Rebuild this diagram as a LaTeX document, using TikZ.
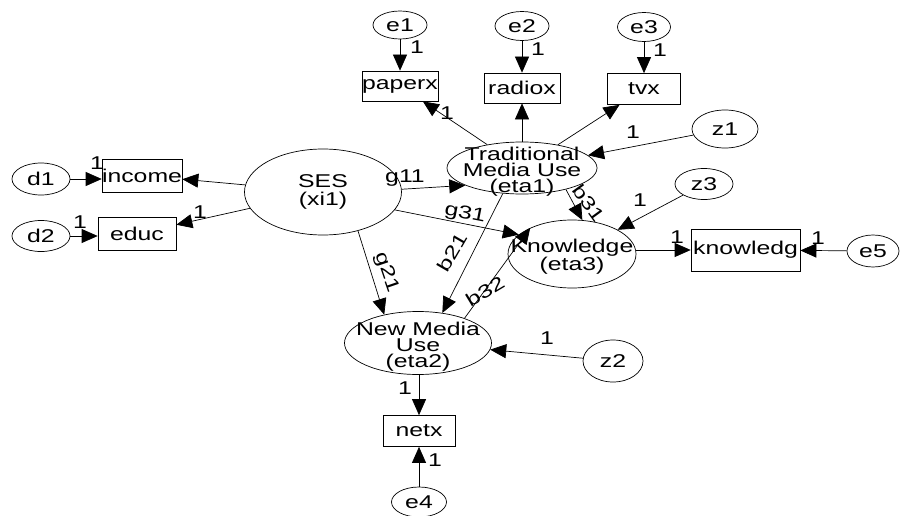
\documentclass[tikz,border=0pt]{standalone}
\usepackage{fontspec}
\setmainfont{Liberation Sans}[FakeStretch=1.34]
\usetikzlibrary{shapes.geometric,arrows.meta}
\begin{document}
\begin{tikzpicture}[x=1pt,y=-1pt,
  font=\fontsize{18.5}{16}\selectfont,
  lat/.style={draw, ellipse, inner sep=0pt, line width=0.7pt, align=center},
  big/.style={inner xsep=-30pt, inner ysep=-12pt},
  obs/.style={draw, rectangle, inner sep=0pt, line width=0.7pt},
  arr/.style={-{Triangle[length=16pt,width=14pt]}, line width=0.7pt},
  lbl/.style={inner sep=0pt}]
\useasboundingbox (0,0) rectangle (901,516);

% latent / error ellipses
\node[lat, minimum width=54pt, minimum height=28pt] (e1) at (400,25) {e1};
\node[lat, minimum width=54pt, minimum height=29pt] (e2) at (522,26) {e2};
\node[lat, minimum width=53pt, minimum height=29pt] (e3) at (644,27) {e3};
\node[lat, minimum width=66pt, minimum height=38pt] (z1) at (725,129) {z1};
\node[lat, minimum width=58pt, minimum height=31pt] (z3) at (704,184) {z3};
\node[lat, minimum width=58pt, minimum height=32pt] (d1) at (41,179) {d1};
\node[lat, minimum width=58pt, minimum height=31pt] (d2) at (41,236) {d2};
\node[lat, minimum width=52pt, minimum height=32pt] (e5) at (873,251) {e5};
\node[lat, minimum width=60pt, minimum height=42pt] (z2) at (613,361) {z2};
\node[lat, minimum width=55pt, minimum height=30pt] (e4) at (419,502) {e4};

\node[lat, big, minimum width=150pt, minimum height=52pt] (eta1) at (522,168) {\rule{0pt}{21pt}Traditional\\Media Use\\(eta1)};
\node[lat, big, minimum width=157pt, minimum height=86pt, font=\fontsize{18.5}{18}\selectfont] (SES) at (323,192) {SES\\(xi1)};
\node[lat, big, minimum width=128pt, minimum height=68pt] (eta3) at (572,254) {\rule{0pt}{19pt}Knowledge\\(eta3)};
\node[lat, big, minimum width=147pt, minimum height=63pt] (eta2) at (418,343) {\rule{0pt}{21pt}New Media\\Use\\(eta2)};

% observed boxes
\node[obs, minimum width=74pt, minimum height=30pt] (paperx) at (400,86) {paperx};
\node[obs, minimum width=76pt, minimum height=30pt] (radiox) at (522,88) {radiox};
\node[obs, minimum width=73pt, minimum height=31pt] (tvx) at (644,89) {tvx};
\node[obs, minimum width=78pt, minimum height=33pt] (income) at (142,175.5) {income};
\node[obs, minimum width=78pt, minimum height=33pt] (educ) at (137,233.5) {educ};
\node[obs, minimum width=109pt, minimum height=42pt] (knowledg) at (745.5,250) {knowledg};
\node[obs, minimum width=72pt, minimum height=31pt] (netx) at (419,431) {netx};

% connectors
\draw[arr] (e1) -- (paperx);
\draw[arr] (e2) -- (radiox);
\draw[arr] (e3) -- (tvx);
\draw[arr] (eta1) -- (paperx);
\draw[arr] (eta1) -- (radiox);
\draw[arr] (eta1) -- (tvx);
\draw[arr] (z1) -- (eta1);
\draw[arr] (SES) -- (income);
\draw[arr] (SES) -- (educ);
\draw[arr] (d1.east) -- (d1 -| income.west);
\draw[arr] (d2.east) -- (d2 -| educ.west);
\draw[arr] (SES.2) -- (eta1.197);
\draw[arr] (SES.-14) -- (eta3.160);
\draw[arr] (SES.-48) -- (eta2.140);
\draw[arr] (eta1.-127) -- (eta2.51);
\draw[arr] (eta1.-26) -- (eta3.73);
\draw[arr] (eta2.28) -- (eta3.148);
\draw[arr] (z3) -- (eta3);
\draw[arr] (knowledg -| eta3.east) -- (knowledg.west);
\draw[arr] (e5) -- (knowledg);
\draw[arr] (z2) -- (eta2);
\draw[arr] (eta2.south -| netx) -- (netx);
\draw[arr] (e4) -- (netx);

% labels
\node[lbl] (l1) at (417,47) {1};
\node[lbl] (l2) at (538,49) {1};
\node[lbl] (l3) at (660,50) {1};
\node[lbl] (l4) at (447,113) {1};
\node[lbl] (l5) at (633,132) {1};
\node[lbl] (l6) at (640,200) {1};
\node[lbl] (l7) at (97,163) {1};
\node[lbl] (l8) at (80,222) {1};
\node[lbl] (l9) at (200,212) {1};
\node[lbl] (l10) at (677,237) {1};
\node[lbl] (l11) at (818,238) {1};
\node[lbl] (l12) at (547,338) {1};
\node[lbl] (l13) at (405,388) {1};
\node[lbl] (l14) at (435,460) {1};
\node[lbl] (g11) at (405,178) {g11};
\node[lbl, rotate=-11] (g31) at (465,214) {g31};
\node[lbl, rotate=-71] (g21) at (387,273) {g21};
\node[lbl, rotate=60] (b21) at (452,252) {b21};
\node[lbl, rotate=31] (b32) at (485,291) {b32};
\node[lbl, rotate=-54] (b31) at (589,203) {b31};
\end{tikzpicture}
\end{document}
